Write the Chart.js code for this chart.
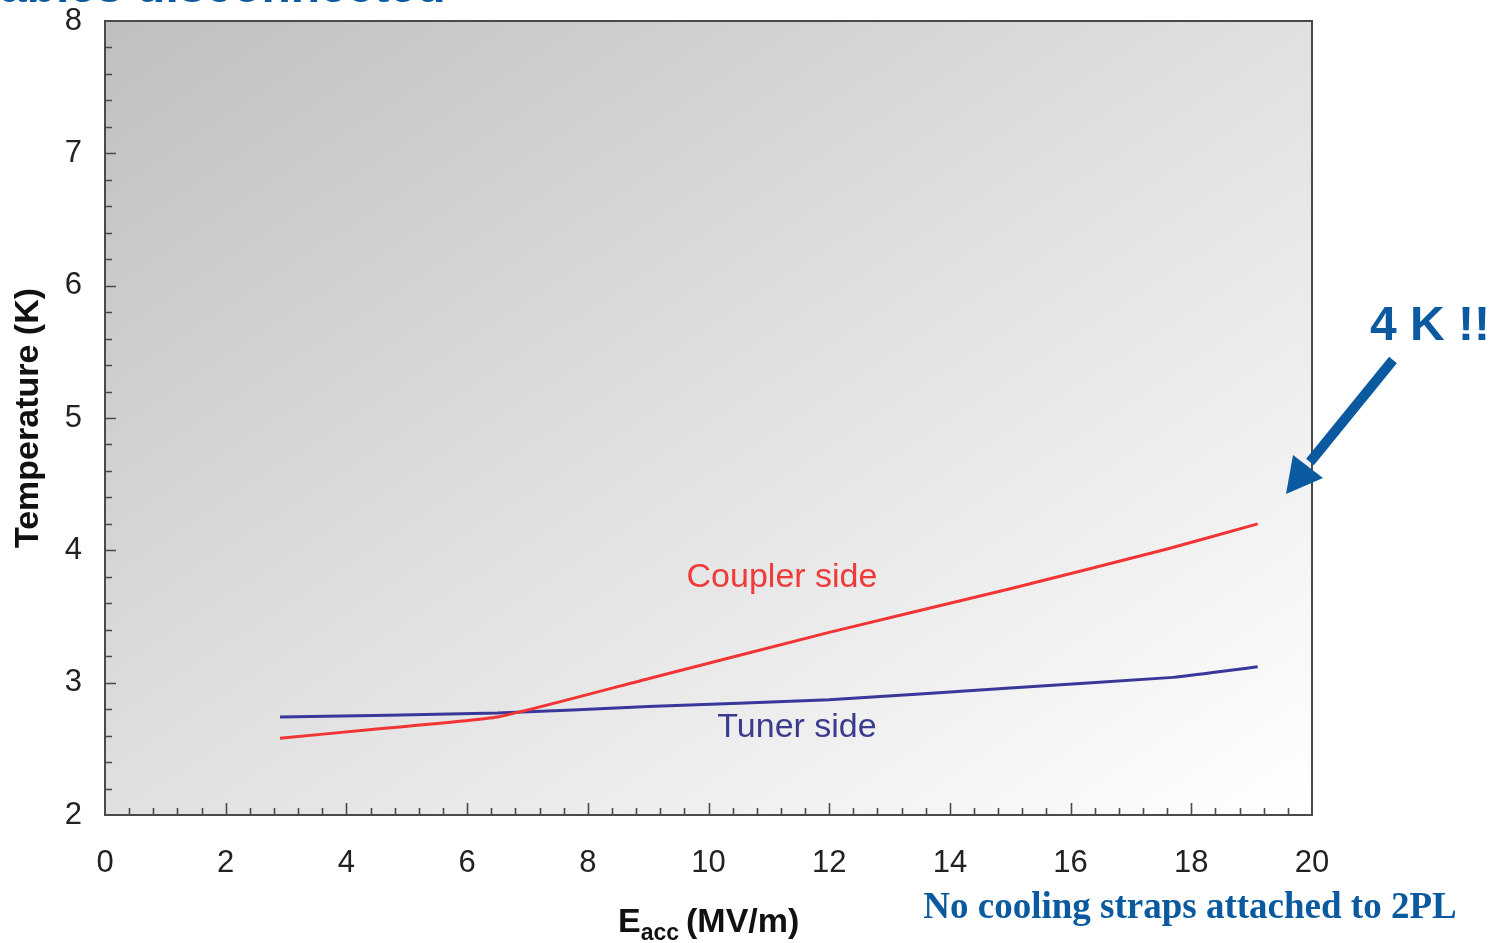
<!DOCTYPE html>
<html>
<head>
<meta charset="utf-8">
<script src="https://cdn.jsdelivr.net/npm/chart.js@4.4.1/dist/chart.umd.min.js"></script>
<style>
  html, body { margin: 0; padding: 0; background: #ffffff; }
  #wrap { width: 1490px; height: 943px; position: relative; }
</style>
</head>
<body>
<div id="wrap"><canvas id="c" width="1490" height="943"></canvas></div>
<script>
// Accelerating gradient (MV/m) and measured temperatures (K)
const eaccCoupler = [2.9, 4.5, 6.5, 9.0, 12.0, 15.0, 17.6, 19.1];
const tempCoupler = [2.58, 2.65, 2.74, 3.03, 3.38, 3.71, 4.01, 4.20];
const eaccTuner   = [2.9, 6.5, 9.0, 12.0, 15.0, 17.7, 19.1];
const tempTuner   = [2.74, 2.77, 2.82, 2.87, 2.96, 3.04, 3.12];

const xTicks = [0, 2, 4, 6, 8, 10, 12, 14, 16, 18, 20];
const yTicks = [2, 3, 4, 5, 6, 7, 8];

const labelFont = "'Liberation Sans', Arial, sans-serif";

const pts = (xs, ys) => xs.map((x, i) => ({ x, y: ys[i] }));

// Plot background, frame, inward ticks and the annotations
const decor = {
  id: 'decor',
  beforeDatasetsDraw(chart) {
    const { ctx, chartArea: a } = chart;
    const w = a.right - a.left, h = a.bottom - a.top;
    // shade bands run parallel to the top-right / bottom-left diagonal
    const len = 2 * w * h / Math.hypot(w, h);
    const dx = h / Math.hypot(w, h), dy = w / Math.hypot(w, h);
    ctx.save();
    const g = ctx.createLinearGradient(a.left, a.top, a.left + dx * len, a.top + dy * len);
    g.addColorStop(0, '#bfbfbf');
    g.addColorStop(0.5, '#e0e0e0');
    g.addColorStop(1, '#ffffff');
    ctx.fillStyle = g;
    ctx.fillRect(a.left, a.top, w, h);
    ctx.restore();
  },
  afterDatasetsDraw(chart) {
    const { ctx, chartArea: a, scales: { x, y } } = chart;
    ctx.save();
    ctx.strokeStyle = '#4a4a4a';
    ctx.lineWidth = 2;
    ctx.strokeRect(a.left, a.top, a.right - a.left, a.bottom - a.top);

    ctx.lineWidth = 1.6;
    ctx.beginPath();
    // x axis: minor every 0.4, major every 2
    for (let i = 1; i < 50; i++) {
      const v = i * 0.4;
      const px = Math.round(x.getPixelForValue(v)) + 0.5;
      const major = i % 5 === 0;
      ctx.moveTo(px, a.bottom);
      ctx.lineTo(px, a.bottom - (major ? 12 : 7));
    }
    // y axis: minor every 0.2, major every 1
    for (let i = 1; i < 30; i++) {
      const v = 2 + i * 0.2;
      const py = Math.round(y.getPixelForValue(v)) + 0.5;
      const major = i % 5 === 0;
      ctx.moveTo(a.left, py);
      ctx.lineTo(a.left + (major ? 11 : 7), py);
    }
    ctx.stroke();

    // series labels
    ctx.font = "34px " + labelFont;
    ctx.textAlign = 'center';
    ctx.textBaseline = 'middle';
    ctx.fillStyle = '#f03a3a';
    ctx.fillText('Coupler side', 782, 578);
    ctx.fillStyle = '#3b3b8e';
    ctx.fillText('Tuner side', 797, 728);

    // axis titles
    ctx.fillStyle = '#111111';
    ctx.font = "bold 34px " + labelFont;
    ctx.save();
    ctx.translate(29, 418);
    ctx.rotate(-Math.PI / 2);
    ctx.fillText('Temperature (K)', 0, 0);
    ctx.restore();

    ctx.textAlign = 'left';
    ctx.textBaseline = 'alphabetic';
    let tx = 618;
    ctx.font = "bold 34px " + labelFont;
    ctx.fillText('E', tx, 932);
    tx += ctx.measureText('E').width;
    ctx.font = "bold 23px " + labelFont;
    ctx.fillText('acc', tx, 940);
    tx += ctx.measureText('acc').width + 7;
    ctx.font = "bold 34px " + labelFont;
    ctx.fillText('(MV/m)', tx, 932);

    // headings and callout
    ctx.fillStyle = '#0b5aa0';
    ctx.font = "bold 48px " + labelFont;
    ctx.textAlign = 'left';
    ctx.fillText('ables disconnected', 0, 2);

    ctx.textAlign = 'center';
    ctx.fillText('4 K !!', 1430, 340);

    ctx.font = "bold 37px 'Liberation Serif', 'Times New Roman', serif";
    ctx.fillText('No cooling straps attached to 2PL', 1190, 918);

    // arrow
    ctx.strokeStyle = '#0b5aa0';
    ctx.lineWidth = 10;
    ctx.beginPath();
    ctx.moveTo(1393, 360);
    ctx.lineTo(1310, 462);
    ctx.stroke();
    ctx.beginPath();
    ctx.moveTo(1286, 494);
    ctx.lineTo(1293, 455);
    ctx.lineTo(1323, 478);
    ctx.closePath();
    ctx.fill();
    ctx.restore();
  }
};

new Chart(document.getElementById('c'), {
  type: 'line',
  data: {
    datasets: [
      {
        label: 'Coupler side',
        data: pts(eaccCoupler, tempCoupler),
        borderColor: '#f23434',
        borderWidth: 3,
        pointRadius: 0,
        tension: 0.15,
        fill: false
      },
      {
        label: 'Tuner side',
        data: pts(eaccTuner, tempTuner),
        borderColor: '#38389a',
        borderWidth: 3,
        pointRadius: 0,
        tension: 0.15,
        fill: false
      }
    ]
  },
  options: {
    responsive: false,
    animation: false,
    devicePixelRatio: 1,
    layout: { padding: { left: 0, right: 178, top: 21, bottom: 0 } },
    plugins: { legend: { display: false }, tooltip: { enabled: false } },
    scales: {
      x: {
        type: 'linear',
        min: 0, max: 20,
        afterBuildTicks: s => { s.ticks = xTicks.map(v => ({ value: v })); },
        afterFit: s => { s.height = 128; s.paddingLeft = 0; s.paddingRight = 0; },
        grid: { display: false, drawTicks: false },
        border: { display: false },
        ticks: { color: '#222222', font: { family: labelFont, size: 31 }, padding: 30 }
      },
      y: {
        type: 'linear',
        min: 2, max: 8,
        afterBuildTicks: s => { s.ticks = yTicks.map(v => ({ value: v })); },
        afterFit: s => { s.width = 105; s.paddingTop = 0; s.paddingBottom = 0; },
        grid: { display: false, drawTicks: false },
        border: { display: false },
        ticks: { color: '#222222', font: { family: labelFont, size: 31 }, padding: 23 }
      }
    }
  },
  plugins: [decor]
});
</script>
</body>
</html>
